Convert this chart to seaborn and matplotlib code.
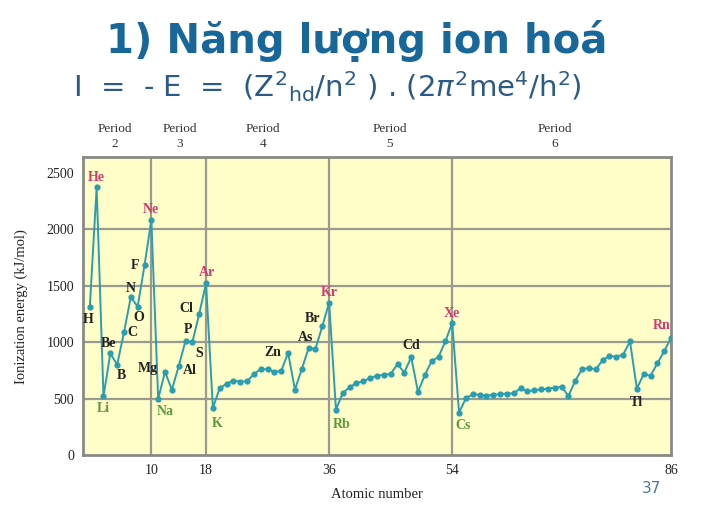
import matplotlib
matplotlib.use("Agg")
import matplotlib.pyplot as plt
import matplotlib.transforms as mtransforms
import seaborn as sns
import pandas as pd

# first ionization energies (kJ/mol), Z = 1..86
atomic_number = list(range(1, 87))
ion_energy = [
    1312, 2372, 520, 900, 801, 1086, 1402, 1314, 1681, 2081,
    496, 738, 578, 787, 1012, 1000, 1251, 1521,
    419, 590, 633, 659, 651, 653, 717, 762, 760, 737, 745, 906,
    579, 762, 947, 941, 1140, 1351,
    403, 550, 600, 640, 652, 684, 702, 710, 720, 804, 731, 868,
    558, 709, 834, 869, 1008, 1170,
    376, 503, 538, 534, 527, 533, 540, 545, 547, 593, 566, 573, 581, 589,
    597, 603, 524, 659, 761, 770, 760, 840, 880, 870, 890, 1007,
    589, 716, 703, 812, 920, 1037,
]

label_z = [1, 2, 3, 4, 5, 6, 7, 8, 9, 10, 11, 12, 13, 15, 16, 17, 18, 19,
           30, 33, 35, 36, 37, 48, 54, 55, 81, 86]
label_text = ["H", "He", "Li", "Be", "B", "C", "N", "O", "F", "Ne", "Na", "Mg",
              "Al", "P", "S", "Cl", "Ar", "K", "Zn", "As", "Br", "Kr", "Rb",
              "Cd", "Xe", "Cs", "Tl", "Rn"]
label_kind = ["o", "n", "a", "o", "o", "o", "o", "o", "o", "n", "a", "o",
              "o", "o", "o", "o", "n", "a", "o", "o", "o", "n", "a",
              "o", "n", "a", "o", "n"]
# label offsets in points (dx, dy)
label_off = [(-1, -9), (0, 7), (0, -9), (-1, 7), (3, -8), (6, 0), (0, 6), (1, -8),
             (-7, 0), (0, 8), (5, -9), (-12, 2), (13, 14), (2, 8), (5, -8), (-9, 4),
             (1, 8), (3, -11), (-11, 0), (-2, 8), (-7, 6), (0, 7), (4, -11),
             (0, 8), (0, 7), (3, -9), (0, -10), (-7, 9)]

period_names = ["Period\n2", "Period\n3", "Period\n4", "Period\n5", "Period\n6"]
period_x = [4.7, 14.2, 26.3, 44.9, 69.0]

x_ticks = [10, 18, 36, 54, 86]
y_ticks = [0, 500, 1000, 1500, 2000, 2500]

kind_color = {"n": "#d23a72", "a": "#5a9a3c", "o": "#222222"}
line_color = "#2a9db0"
serif = ["Liberation Serif", "DejaVu Serif"]

sns.set_style("white")
plt.rcParams["font.family"] = ["DejaVu Sans"]
plt.rcParams["mathtext.fontset"] = "dejavusans"

df = pd.DataFrame({"Z": atomic_number, "IE": ion_energy})

fig = plt.figure(figsize=(7.14, 5.30), dpi=100)
ax = fig.add_axes([0.1162, 0.1415, 0.8236, 0.562])
ax.set_facecolor("#fffdc8")

sns.lineplot(data=df, x="Z", y="IE", ax=ax, color=line_color, lw=1.4,
             marker="o", markersize=4.5, markeredgewidth=0, zorder=3)

ax.set_xlim(0, 86)
ax.set_ylim(0, 2640)
ax.set_xticks(x_ticks)
ax.set_yticks(y_ticks)
ax.set_xticklabels([str(t) for t in x_ticks], family=serif, fontsize=10, color="#222")
ax.set_yticklabels([str(t) for t in y_ticks], family=serif, fontsize=10, color="#222")
ax.tick_params(length=3, color="#888", width=1.2)
for v in x_ticks[:-1]:
    ax.axvline(v, color="#9a9a90", lw=1.6, zorder=1)
for v in y_ticks[1:-1]:
    ax.axhline(v, color="#9a9a90", lw=1.6, zorder=1)
for s in ax.spines.values():
    s.set_color("#8a8a85")
    s.set_linewidth(2)

ax.set_xlabel("Atomic number", family=serif, fontsize=10.5, color="#222", labelpad=8)
ax.set_ylabel("Ionization energy (kJ/mol)", family=serif, fontsize=10.5, color="#222", labelpad=13)

for z, t, k, off in zip(label_z, label_text, label_kind, label_off):
    ax.annotate(t, xy=(z, ion_energy[z - 1]), xytext=off, textcoords="offset points",
                ha="center", va="center", family=serif, fontsize=10,
                fontweight="bold", color=kind_color[k], zorder=4)

trans = mtransforms.blended_transform_factory(ax.transData, ax.transAxes)
for px, name in zip(period_x, period_names):
    ax.text(px, 1.025, name, transform=trans, ha="center", va="bottom",
            family=serif, fontsize=9.5, color="#333", linespacing=1.3)

fig.text(0.50, 0.922, "1) Năng lượng ion hoá", ha="center", va="center",
         fontsize=29, fontweight="bold", color="#17679a")
fig.text(0.102, 0.836, r"I  =  - E  =  (Z$^2$$_{\mathrm{hd}}$/n$^2$ ) . (2$\pi^2$me$^4$/h$^2$)",
         ha="left", va="center", fontsize=21, color="#2a5a86")
fig.text(0.913, 0.079, "37", ha="center", va="center", fontsize=11, color="#4a78a0")

fig.savefig("out.png", dpi=100)
